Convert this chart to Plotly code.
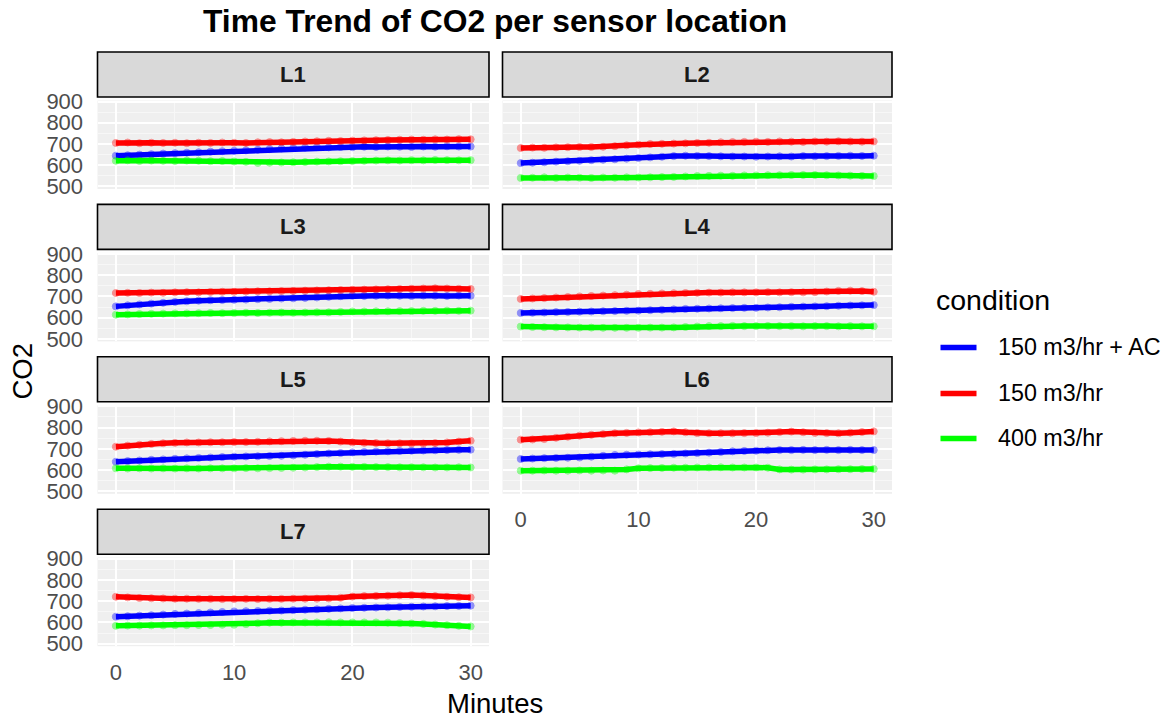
import plotly.graph_objects as go

# ---------------- data ----------------
minutes = list(range(31))
locations = ["L1", "L2", "L3", "L4", "L5", "L6", "L7"]
conditions = ["150 m3/hr + AC", "150 m3/hr", "400 m3/hr"]
cond_colors = ["#0000FF", "#FF0000", "#00FF00"]
y_ticks = [500, 600, 700, 800, 900]
x_ticks = [0, 10, 20, 30]

L1_ac = [645, 647, 650, 652, 655, 657, 659, 661, 664, 666, 668, 670, 673, 676, 679, 681, 683, 685, 684, 686, 685, 687, 686, 688, 687, 686, 688, 687, 689, 688, 688]
L1_150 = [705, 707, 704, 706, 705, 706, 704, 706, 705, 707, 706, 705, 708, 709, 708, 710, 712, 713, 715, 714, 716, 717, 718, 719, 720, 721, 720, 722, 721, 723, 722]
L1_400 = [621, 623, 620, 622, 621, 620, 622, 621, 619, 620, 618, 616, 611, 612, 613, 614, 615, 617, 618, 619, 620, 621, 622, 623, 622, 624, 623, 625, 624, 623, 624]

L2_ac = [610, 612, 614, 617, 619, 621, 624, 626, 628, 631, 634, 637, 640, 643, 645, 644, 643, 642, 641, 641, 640, 641, 642, 641, 643, 642, 643, 644, 645, 644, 645]
L2_150 = [681, 683, 682, 684, 685, 686, 686, 687, 690, 694, 697, 700, 701, 702, 703, 705, 706, 708, 709, 710, 711, 710, 712, 711, 710, 712, 711, 713, 712, 711, 712]
L2_400 = [540, 541, 543, 540, 542, 541, 540, 542, 541, 543, 542, 543, 544, 545, 547, 549, 550, 551, 550, 552, 552, 553, 553, 554, 554, 554, 553, 552, 551, 550, 549]

L3_ac = [653, 658, 662, 666, 670, 674, 677, 680, 682, 683, 684, 685, 687, 688, 690, 691, 693, 695, 698, 701, 703, 702, 703, 704, 703, 702, 704, 703, 702, 704, 703]
L3_150 = [716, 717, 716, 718, 717, 719, 720, 719, 721, 722, 722, 723, 724, 724, 725, 726, 727, 728, 729, 730, 731, 732, 733, 734, 735, 736, 737, 738, 737, 736, 735]
L3_400 = [614, 615, 617, 618, 619, 620, 620, 621, 622, 621, 622, 623, 622, 623, 624, 623, 624, 625, 625, 627, 629, 629, 630, 630, 631, 631, 632, 632, 633, 632, 633]

L4_ac = [622, 623, 624, 626, 627, 628, 629, 630, 631, 632, 633, 635, 637, 639, 641, 642, 643, 644, 645, 646, 646, 648, 649, 651, 652, 653, 654, 656, 657, 658, 659]
L4_150 = [688, 690, 692, 695, 697, 700, 702, 704, 706, 708, 711, 712, 714, 715, 716, 717, 718, 718, 719, 719, 719, 720, 719, 720, 719, 720, 723, 726, 727, 725, 722]
L4_400 = [558, 556, 555, 554, 554, 553, 553, 552, 552, 552, 552, 553, 553, 554, 556, 558, 560, 560, 561, 560, 560, 561, 560, 560, 559, 560, 560, 559, 560, 559, 559]

L5_ac = [639, 642, 645, 648, 650, 653, 655, 657, 659, 661, 663, 664, 665, 666, 667, 669, 672, 675, 678, 680, 683, 685, 687, 688, 690, 691, 692, 693, 694, 695, 696]
L5_150 = [710, 715, 719, 723, 726, 728, 730, 730, 731, 731, 732, 732, 733, 735, 736, 737, 738, 738, 737, 734, 730, 728, 727, 726, 726, 725, 725, 727, 730, 734, 738]
L5_400 = [608, 607, 608, 607, 608, 607, 608, 607, 608, 608, 608, 609, 608, 609, 610, 611, 612, 614, 616, 616, 615, 615, 614, 614, 613, 613, 613, 612, 612, 613, 612]

L6_ac = [652, 654, 656, 657, 658, 659, 663, 667, 671, 672, 673, 674, 675, 676, 678, 680, 682, 685, 688, 690, 691, 693, 694, 694, 695, 694, 695, 694, 695, 694, 694]
L6_150 = [743, 744, 746, 752, 757, 762, 766, 769, 773, 775, 777, 778, 780, 782, 778, 774, 773, 773, 773, 774, 774, 776, 779, 781, 778, 775, 774, 773, 776, 779, 782]
L6_400 = [597, 597, 598, 597, 597, 598, 597, 598, 597, 603, 608, 609, 610, 611, 611, 612, 612, 613, 612, 612, 612, 611, 603, 602, 602, 603, 603, 604, 604, 605, 605]

L7_ac = [627, 629, 632, 634, 637, 640, 642, 644, 647, 649, 652, 653, 654, 655, 656, 658, 660, 662, 664, 666, 668, 669, 670, 671, 673, 674, 675, 676, 677, 678, 679]
L7_150 = [721, 718, 715, 714, 713, 712, 712, 711, 711, 710, 710, 711, 710, 711, 711, 712, 712, 712, 713, 716, 722, 724, 725, 726, 728, 729, 727, 724, 721, 719, 718]
L7_400 = [584, 585, 585, 586, 586, 587, 587, 588, 588, 589, 589, 592, 596, 599, 599, 600, 600, 600, 601, 600, 600, 600, 600, 599, 597, 595, 593, 590, 587, 584, 581]

series = {
    "L1": [L1_ac, L1_150, L1_400],
    "L2": [L2_ac, L2_150, L2_400],
    "L3": [L3_ac, L3_150, L3_400],
    "L4": [L4_ac, L4_150, L4_400],
    "L5": [L5_ac, L5_150, L5_400],
    "L6": [L6_ac, L6_150, L6_400],
    "L7": [L7_ac, L7_150, L7_400],
}

# ---------------- layout geometry (pixels) ----------------
W, H = 1170, 720
FONT = "Liberation Sans, Arial, sans-serif"
col_left = [97.5, 502.5]
col_right = [489.0, 892.0]
row_pitch = 152.4
strip_top0 = 52.0
strip_h = 45.0
panel_gap = 3.5
panel_h = 88.5


def px_x(x):
    return x / W


def px_y(y):
    return 1 - y / H


fig = go.Figure()
layout = dict(
    width=W, height=H,
    margin=dict(l=0, r=0, t=0, b=0, autoexpand=False),
    paper_bgcolor="white",
    plot_bgcolor="#EFEFEF",
    font=dict(family=FONT, color="#4D4D4D"),
    showlegend=False,
)
shapes = []
annotations = []

for i, loc in enumerate(locations):
    r, c = divmod(i, 2)
    n = i + 1
    xa = "x" if n == 1 else f"x{n}"
    ya = "y" if n == 1 else f"y{n}"
    s_top = strip_top0 + r * row_pitch
    p_top = s_top + strip_h + panel_gap
    p_bot = p_top + panel_h

    for k, cond in enumerate(conditions):
        vals = series[loc][k]
        fig.add_trace(go.Scatter(
            x=minutes, y=vals, mode="lines", xaxis=xa, yaxis=ya,
            line=dict(color=cond_colors[k], width=5.5),
            name=cond, legendgroup=cond,
        ))
        fig.add_trace(go.Scatter(
            x=minutes, y=vals, mode="markers", xaxis=xa, yaxis=ya,
            marker=dict(color=cond_colors[k], size=7, opacity=0.4,
                        line=dict(width=1, color=cond_colors[k])),
            name=cond, legendgroup=cond, hoverinfo="skip",
        ))

    show_x = loc in ("L6", "L7")
    show_y = c == 0
    layout["xaxis" if n == 1 else f"xaxis{n}"] = dict(
        domain=[px_x(col_left[c]), px_x(col_right[c])],
        anchor=ya, range=[-1.55, 31.55],
        tickvals=x_ticks, showticklabels=show_x,
        ticks="outside" if show_x else "", ticklen=6, tickcolor="rgba(0,0,0,0)",
        tickfont=dict(size=22, color="#4D4D4D", family=FONT),
        showgrid=True, gridcolor="white", gridwidth=2,
        minor=dict(dtick=5, tick0=0, showgrid=True, gridcolor="#F7F7F7", gridwidth=1),
        zeroline=False, showline=False, automargin=False,
    )
    layout["yaxis" if n == 1 else f"yaxis{n}"] = dict(
        domain=[px_y(p_bot), px_y(p_top)],
        anchor=xa, range=[488, 905],
        tickvals=y_ticks, showticklabels=show_y,
        ticks="outside" if show_y else "", ticklen=9, tickcolor="rgba(0,0,0,0)",
        tickfont=dict(size=22, color="#4D4D4D", family=FONT),
        showgrid=True, gridcolor="white", gridwidth=2,
        minor=dict(dtick=50, tick0=0, showgrid=True, gridcolor="#F7F7F7", gridwidth=1),
        zeroline=False, showline=False, automargin=False,
    )

    shapes.append(dict(
        type="rect", xref="paper", yref="paper",
        x0=px_x(col_left[c]), x1=px_x(col_right[c]),
        y0=px_y(s_top + strip_h), y1=px_y(s_top),
        fillcolor="#D9D9D9", line=dict(color="#000000", width=1.6), layer="above",
    ))
    annotations.append(dict(
        text=f"<b>{loc}</b>", xref="paper", yref="paper",
        x=px_x((col_left[c] + col_right[c]) / 2), y=px_y(s_top + strip_h / 2),
        xanchor="center", yanchor="middle", showarrow=False,
        font=dict(size=22, color="#1A1A1A", family=FONT),
    ))

# title and axis titles
annotations.append(dict(
    text="<b>Time Trend of CO2 per sensor location</b>", xref="paper", yref="paper",
    x=px_x(495), y=px_y(21), xanchor="center", yanchor="middle", showarrow=False,
    font=dict(size=31.8, color="#000000", family=FONT),
))
annotations.append(dict(
    text="Minutes", xref="paper", yref="paper",
    x=px_x(494.5), y=px_y(703), xanchor="center", yanchor="middle", showarrow=False,
    font=dict(size=27.5, color="#000000", family=FONT),
))
annotations.append(dict(
    text="CO2", xref="paper", yref="paper", textangle=-90,
    x=px_x(22.5), y=px_y(371), xanchor="center", yanchor="middle", showarrow=False,
    font=dict(size=27.5, color="#000000", family=FONT),
))

# legend (drawn as key lines + labels)
annotations.append(dict(
    text="condition", xref="paper", yref="paper",
    x=px_x(934), y=px_y(300), xanchor="left", yanchor="middle", showarrow=False,
    font=dict(size=28.5, color="#000000", family=FONT),
))
legend_y = [347.5, 393.5, 438.5]
for k, cond in enumerate(conditions):
    shapes.append(dict(
        type="line", xref="paper", yref="paper",
        x0=px_x(940.5), x1=px_x(976.5), y0=px_y(legend_y[k]), y1=px_y(legend_y[k]),
        line=dict(color=cond_colors[k], width=5.5),
    ))
    annotations.append(dict(
        text=cond, xref="paper", yref="paper",
        x=px_x(995.5), y=px_y(legend_y[k]), xanchor="left", yanchor="middle", showarrow=False,
        font=dict(size=23.3, color="#000000", family=FONT),
    ))

layout["shapes"] = shapes
layout["annotations"] = annotations
fig.update_layout(**layout)
fig.write_html("out.html")
